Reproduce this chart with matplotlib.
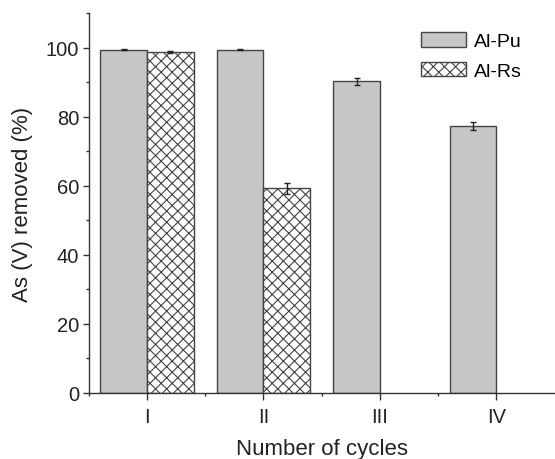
import matplotlib
matplotlib.use("Agg")
import matplotlib.pyplot as plt
import numpy as np
from matplotlib.ticker import MultipleLocator, FixedLocator

plt.rcParams['font.family'] = ['Liberation Sans', 'DejaVu Sans']
plt.rcParams['hatch.linewidth'] = 0.8
plt.rcParams['hatch.color'] = '#333333'

# data
cycles = ['I', 'II', 'III', 'IV']
al_pu = [99.4, 99.4, 90.2, 77.2]
al_pu_err = [0.2, 0.2, 0.9, 1.2]
al_rs = [98.6, 59.3]
al_rs_err = [0.3, 1.6]

x = np.arange(1, len(cycles) + 1)
w = 0.4

fig = plt.figure(figsize=(5.55, 4.6), dpi=100)
ax = fig.add_axes([0.160, 0.1435, 0.839, 0.826])

ax.bar(x - w / 2, al_pu, w, yerr=al_pu_err, color='#c6c6c8', edgecolor='#444444',
       linewidth=1.0, label='Al-Pu',
       error_kw=dict(ecolor='#222222', elinewidth=1.0, capsize=2.5, capthick=1.0))
ax.bar(x[:len(al_rs)] + w / 2, al_rs, w, yerr=al_rs_err, color='white', edgecolor='#444444',
       hatch='xxx', linewidth=1.0, label='Al-Rs',
       error_kw=dict(ecolor='#222222', elinewidth=1.0, capsize=2.5, capthick=1.0))

ax.set_xlim(0.5, 4.5)
ax.set_ylim(0, 110)
ax.set_xticks(x)
ax.set_xticklabels(cycles)
ax.xaxis.set_minor_locator(FixedLocator([0.5, 1.5, 2.5, 3.5]))
ax.yaxis.set_major_locator(MultipleLocator(20))
ax.yaxis.set_minor_locator(MultipleLocator(10))

for s in ['top', 'right']:
    ax.spines[s].set_visible(False)
for s in ['left', 'bottom']:
    ax.spines[s].set_color('#333333')
    ax.spines[s].set_linewidth(1.0)

ax.tick_params(axis='both', which='major', direction='out', length=4, width=1.0,
               color='#333333', labelsize=14.5, labelcolor='#222222', pad=3)
ax.tick_params(axis='both', which='minor', direction='out', length=2.5, width=1.0,
               color='#333333')
ax.tick_params(axis='x', which='major', length=5, pad=5)

ax.set_xlabel('Number of cycles', fontsize=16, color='#222222', labelpad=9)
ax.set_ylabel('As (V) removed (%)', fontsize=16, color='#222222', labelpad=9)

ax.legend(loc='upper left', bbox_to_anchor=(0.7586, 0.929), bbox_transform=fig.transFigure,
          frameon=False, fontsize=14, handlelength=2.3, handleheight=0.8,
          handletextpad=0.4, labelspacing=0.6, borderaxespad=0, borderpad=0)

fig.savefig('out.png', dpi=100)
